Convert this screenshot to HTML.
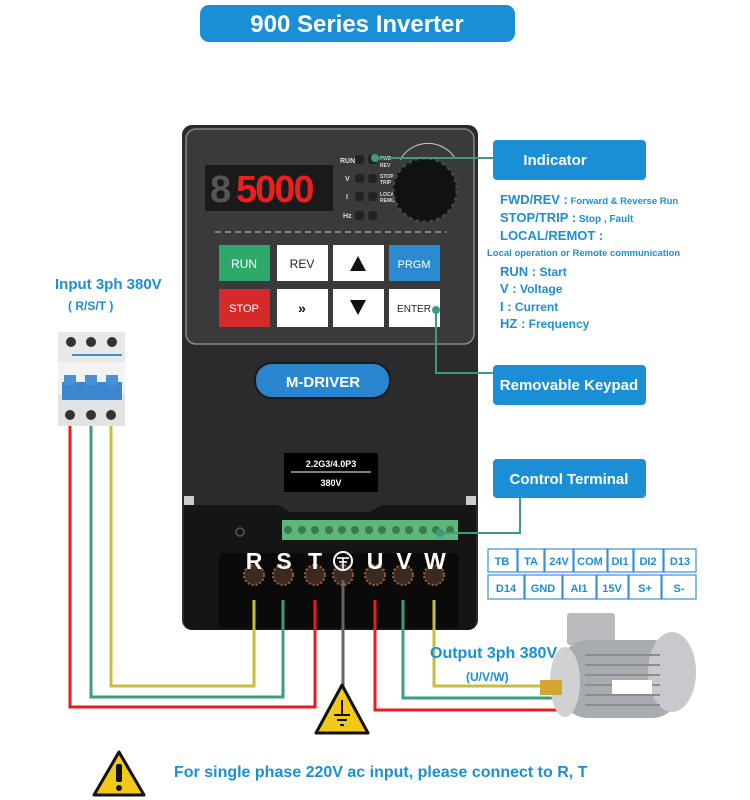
<!DOCTYPE html>
<html><head><meta charset="utf-8"><style>
html,body{margin:0;padding:0;background:#fff}
svg{display:block}
text{font-family:"Liberation Sans",sans-serif}
</style></head><body>
<svg width="750" height="800" viewBox="0 0 750 800" xmlns="http://www.w3.org/2000/svg">
<!-- title -->
<rect x="200" y="5" width="315" height="37" rx="9" fill="#1b8fd6"/>
<text x="357" y="32" text-anchor="middle" fill="#fff" font-size="24" font-weight="bold">900 Series Inverter</text>

<!-- inverter body -->
<rect x="182" y="125" width="296" height="505" rx="10" fill="#2b2b2d"/>
<rect x="186" y="129" width="288" height="215" rx="10" fill="#3a3a3c" stroke="#888" stroke-width="1.5"/>
<rect x="205" y="165" width="128" height="46" fill="#1a1a1a"/>
<text x="210" y="202" fill="#555" font-size="38" font-family="Liberation Mono" font-weight="bold">8</text>
<text x="236" y="202" fill="#e82020" font-size="38" font-family="Liberation Mono" font-weight="bold" letter-spacing="-2">5000</text>
<!-- leds -->
<g font-size="7" fill="#ddd" font-weight="bold">
<text x="340" y="163">RUN</text><text x="345" y="181">V</text><text x="346" y="199">I</text><text x="343" y="218">Hz</text>
<text x="380" y="160" font-size="5">FWD</text><text x="380" y="167" font-size="5">REV</text>
<text x="380" y="178" font-size="5">STOP</text><text x="380" y="184" font-size="5">TRIP</text>
<text x="380" y="196" font-size="5">LOCAL</text><text x="380" y="202" font-size="5">REMOTE</text>
</g>
<g fill="#222"><rect x="355" y="155" width="9" height="9" rx="3"/><rect x="368" y="155" width="9" height="9" rx="3"/>
<rect x="355" y="174" width="9" height="9" rx="3"/><rect x="368" y="174" width="9" height="9" rx="3"/>
<rect x="355" y="192" width="9" height="9" rx="3"/><rect x="368" y="192" width="9" height="9" rx="3"/>
<rect x="355" y="211" width="9" height="9" rx="3"/><rect x="368" y="211" width="9" height="9" rx="3"/></g>
<circle cx="425" cy="190" r="32" fill="#111" stroke="#444" stroke-width="3" stroke-dasharray="4 3"/>
<path d="M400 160 A32 32 0 0 1 455 158" fill="none" stroke="#ccc" stroke-width="1"/>
<line x1="215" y1="232" x2="447" y2="232" stroke="#999" stroke-width="1.5" stroke-dasharray="6 4"/>
<!-- buttons -->
<rect x="219" y="245" width="51" height="36" fill="#2ea86a"/><text x="244" y="268" text-anchor="middle" fill="#fff" font-size="12">RUN</text>
<rect x="277" y="245" width="51" height="36" fill="#fff"/><text x="302" y="268" text-anchor="middle" fill="#222" font-size="12">REV</text>
<rect x="333" y="245" width="51" height="36" fill="#fff"/><polygon points="358,256 350,271 366,271" fill="#111"/>
<rect x="389" y="245" width="51" height="36" fill="#2a8bd0"/><text x="414" y="268" text-anchor="middle" fill="#fff" font-size="11">PRGM</text>
<rect x="219" y="289" width="51" height="38" fill="#d62a2a"/><text x="244" y="312" text-anchor="middle" fill="#fff" font-size="11">STOP</text>
<rect x="277" y="289" width="51" height="38" fill="#fff"/><text x="302" y="313" text-anchor="middle" fill="#111" font-size="14" font-weight="bold">»</text>
<rect x="333" y="289" width="51" height="38" fill="#fff"/><polygon points="350,300 366,300 358,315" fill="#111"/>
<rect x="389" y="289" width="51" height="38" fill="#fff"/><text x="414" y="312" text-anchor="middle" fill="#222" font-size="10">ENTER</text>
<!-- logo -->
<rect x="255" y="363" width="135" height="35" rx="17" fill="#2a85cf" stroke="#1a1a1a" stroke-width="2"/>
<text x="323" y="387" text-anchor="middle" fill="#fff" font-size="15" font-weight="bold">M-DRIVER</text>
<!-- rating label -->
<rect x="284" y="453" width="94" height="39" fill="#000"/>
<text x="331" y="467" text-anchor="middle" fill="#fff" font-size="9" font-weight="bold">2.2G3/4.0P3</text>
<line x1="291" y1="472" x2="371" y2="472" stroke="#fff"/>
<text x="331" y="486" text-anchor="middle" fill="#fff" font-size="9" font-weight="bold">380V</text>
<!-- bottom section -->
<rect x="184" y="496" width="10" height="14" fill="#ccc"/><rect x="466" y="496" width="10" height="14" fill="#ccc"/>
<path d="M184 505 L278 505 L290 512 L370 512 L382 505 L476 505 L476 620 Q476 630 466 630 L194 630 Q184 630 184 620Z" fill="#151515"/>
<rect x="219" y="553" width="240" height="75" rx="4" fill="#0a0a0a"/>
<circle cx="240" cy="532" r="4" fill="none" stroke="#555" stroke-width="1.5"/>
<rect x="282" y="520" width="176" height="20" fill="#5cb878"/>
<g fill="#3d7a4f">
<circle cx="288" cy="530" r="4"/><circle cx="302" cy="530" r="4"/><circle cx="315" cy="530" r="4"/><circle cx="329" cy="530" r="4"/><circle cx="342" cy="530" r="4"/><circle cx="355" cy="530" r="4"/><circle cx="369" cy="530" r="4"/><circle cx="382" cy="530" r="4"/><circle cx="396" cy="530" r="4"/><circle cx="409" cy="530" r="4"/><circle cx="423" cy="530" r="4"/><circle cx="436" cy="530" r="4"/><circle cx="450" cy="530" r="4"/></g>
<g fill="#3a2a20" stroke="#a0603a" stroke-width="2" stroke-dasharray="2 2">
<circle cx="254" cy="575" r="10"/><circle cx="283" cy="575" r="10"/><circle cx="315" cy="575" r="10"/><circle cx="343" cy="575" r="10"/><circle cx="375" cy="575" r="10"/><circle cx="403" cy="575" r="10"/><circle cx="434" cy="575" r="10"/></g>
<g fill="#fff" font-size="23" font-weight="bold" text-anchor="middle">
<text x="254" y="569">R</text><text x="284" y="569">S</text><text x="315" y="569">T</text><text x="375" y="569">U</text><text x="404" y="569">V</text><text x="435" y="569">W</text></g>
<circle cx="343" cy="561" r="9" fill="none" stroke="#fff" stroke-width="2"/>
<g stroke="#fff" stroke-width="1.6"><line x1="337" y1="558" x2="349" y2="558"/><line x1="339" y1="562" x2="347" y2="562"/><line x1="343" y1="558" x2="343" y2="569"/></g>

<!-- wires -->
<g fill="none" stroke-width="3">
<polyline points="70,415 70,707 315,707 315,600" stroke="#e51d1d"/>
<polyline points="91,415 91,697 283,697 283,600" stroke="#3a9e7e"/>
<polyline points="111,415 111,686 254,686 254,600" stroke="#c9bd3a"/>
<polyline points="375,600 375,710 565,710" stroke="#e51d1d"/>
<polyline points="403,600 403,698 560,698" stroke="#3a9e7e"/>
<polyline points="434,600 434,686 545,686" stroke="#c9bd3a"/>
<line x1="343" y1="580" x2="343" y2="690" stroke="#666"/>
</g>
<!-- ground triangle -->
<polygon points="342,685 316,733 368,733" fill="#f2c918" stroke="#111" stroke-width="3" stroke-linejoin="round"/>
<g stroke="#111" stroke-width="2"><line x1="342" y1="700" x2="342" y2="715"/><line x1="334" y1="715" x2="350" y2="715"/><line x1="337" y1="720" x2="347" y2="720"/><line x1="340" y1="725" x2="344" y2="725"/></g>

<!-- breaker -->
<rect x="58" y="332" width="67" height="30" fill="#e8e8e8"/>
<rect x="58" y="362" width="67" height="32" fill="#f2f2f2"/>
<rect x="58" y="394" width="67" height="32" fill="#e2e2e2"/>
<rect x="62" y="382" width="60" height="18" fill="#3d86d0"/>
<rect x="64" y="375" width="12" height="10" fill="#4a90d8"/><rect x="85" y="375" width="12" height="10" fill="#4a90d8"/><rect x="106" y="375" width="12" height="10" fill="#4a90d8"/>
<line x1="72" y1="355" x2="122" y2="355" stroke="#3b8fd4" stroke-width="2"/>
<g fill="#333"><circle cx="71" cy="342" r="5"/><circle cx="91" cy="342" r="5"/><circle cx="112" cy="342" r="5"/><circle cx="70" cy="415" r="5"/><circle cx="91" cy="415" r="5"/><circle cx="111" cy="415" r="5"/></g>
<text x="55" y="289" fill="#1b8fd6" font-size="15" font-weight="bold">Input 3ph 380V</text>
<text x="68" y="310" fill="#1b8fd6" font-size="12" font-weight="bold">( R/S/T )</text>

<!-- motor -->
<rect x="567" y="613" width="48" height="32" rx="3" fill="#b8babd"/>
<rect x="560" y="640" width="120" height="78" rx="28" fill="#a8abaf"/>
<ellipse cx="672" cy="672" rx="24" ry="40" fill="#c8cacd"/>
<g stroke="#8a8d90" stroke-width="2"><line x1="585" y1="655" x2="660" y2="655"/><line x1="585" y1="665" x2="660" y2="665"/><line x1="585" y1="675" x2="660" y2="675"/><line x1="585" y1="685" x2="660" y2="685"/><line x1="585" y1="695" x2="660" y2="695"/><line x1="585" y1="705" x2="660" y2="705"/></g>
<rect x="612" y="680" width="40" height="14" fill="#fff"/>
<ellipse cx="565" cy="682" rx="15" ry="35" fill="#cfd1d3"/>
<rect x="540" y="680" width="22" height="15" fill="#d1a633"/>
<text x="430" y="658" fill="#1b8fd6" font-size="16" font-weight="bold">Output 3ph 380V</text>
<text x="466" y="681" fill="#1b8fd6" font-size="12" font-weight="bold">(U/V/W)</text>

<!-- callouts -->
<g stroke="#3a9e7e" stroke-width="2" fill="none">
<polyline points="375,158 493,158"/>
<polyline points="436,310 436,373 493,373"/>
<polyline points="440,533 520,533 520,498"/>
</g>
<g fill="#3a9e7e"><circle cx="375" cy="158" r="4"/><circle cx="436" cy="310" r="4"/><circle cx="440" cy="533" r="4"/></g>
<rect x="493" y="140" width="153" height="40" rx="4" fill="#1b8fd6"/>
<text x="555" y="165" text-anchor="middle" fill="#fff" font-size="15" font-weight="bold">Indicator</text>
<rect x="493" y="365" width="153" height="40" rx="4" fill="#1b8fd6"/>
<text x="569" y="390" text-anchor="middle" fill="#fff" font-size="15" font-weight="bold">Removable Keypad</text>
<rect x="493" y="459" width="153" height="39" rx="4" fill="#1b8fd6"/>
<text x="569" y="484" text-anchor="middle" fill="#fff" font-size="15" font-weight="bold">Control Terminal</text>

<g fill="#1b8fd6" font-weight="bold">
<text x="500" y="204" font-size="13">FWD/REV :<tspan font-size="9.5"> Forward &amp; Reverse Run</tspan></text>
<text x="500" y="222" font-size="13">STOP/TRIP :<tspan font-size="10"> Stop , Fault</tspan></text>
<text x="500" y="240" font-size="13">LOCAL/REMOT :</text>
<text x="487" y="256" font-size="9.5">Local operation or Remote communication</text>
<text x="500" y="276" font-size="13">RUN :<tspan font-size="12"> Start</tspan></text>
<text x="500" y="293" font-size="13">V :<tspan font-size="12"> Voltage</tspan></text>
<text x="500" y="311" font-size="13">I :<tspan font-size="12">  Current</tspan></text>
<text x="500" y="328" font-size="13">HZ :<tspan font-size="12"> Frequency</tspan></text>
</g>

<!-- terminal table -->
<g fill="#fff" stroke="#3b8fd4" stroke-width="1.2">
<rect x="488" y="549" width="29" height="23"/><rect x="518" y="549" width="26" height="23"/><rect x="545" y="549" width="28" height="23"/><rect x="574" y="549" width="33" height="23"/><rect x="608" y="549" width="25" height="23"/><rect x="634" y="549" width="29" height="23"/><rect x="664" y="549" width="32" height="23"/>
<rect x="488" y="575" width="36" height="24"/><rect x="525" y="575" width="37" height="24"/><rect x="563" y="575" width="33" height="24"/><rect x="597" y="575" width="31" height="24"/><rect x="629" y="575" width="32" height="24"/><rect x="662" y="575" width="34" height="24"/>
</g>
<g fill="#1b8fd6" font-size="11" font-weight="bold" text-anchor="middle">
<text x="502" y="565">TB</text><text x="531" y="565">TA</text><text x="559" y="565">24V</text><text x="590" y="565">COM</text><text x="620" y="565">DI1</text><text x="648" y="565">DI2</text><text x="680" y="565">D13</text>
<text x="506" y="592">D14</text><text x="543" y="592">GND</text><text x="579" y="592">AI1</text><text x="612" y="592">15V</text><text x="645" y="592">S+</text><text x="679" y="592">S-</text>
</g>

<!-- warning -->
<polygon points="119,752 94,795 144,795" fill="#f2c918" stroke="#111" stroke-width="3" stroke-linejoin="round"/>
<rect x="116" y="764" width="6" height="18" rx="2" fill="#111"/><circle cx="119" cy="788" r="3" fill="#111"/>
<text x="174" y="777" fill="#1b8fd6" font-size="16" font-weight="bold">For single phase 220V ac input, please connect to R, T</text>
</svg>
</body></html>
